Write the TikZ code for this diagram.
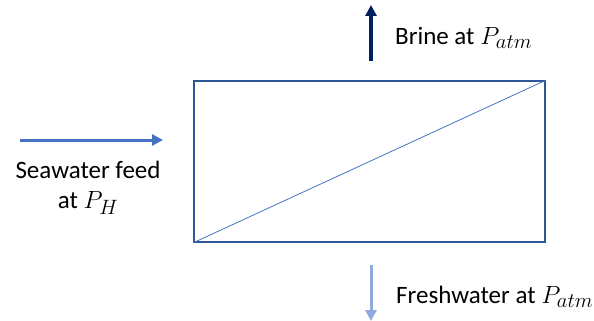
\documentclass[tikz,border=0pt]{standalone}
\usepackage{fontspec}
\setmainfont{Carlito}
\usetikzlibrary{arrows.meta,positioning}
\definecolor{feedblue}{HTML}{4472C4}
\definecolor{brinenavy}{HTML}{002060}
\definecolor{freshblue}{HTML}{8FAADC}
\definecolor{boxblue}{HTML}{2F5597}
\newcommand\pressure[1]{{\fontsize{28}{30}\selectfont$P_{#1}$}}
\tikzset{
  flow/.style={line width=3pt, -{Triangle[length=11pt,width=11pt]}},
  label/.style={font=\fontsize{25}{30}\selectfont, inner sep=0pt}
}
\begin{document}
\begin{tikzpicture}[x=1pt, y=-1pt]
  \useasboundingbox (0,0) rectangle (594,321);
  % membrane module
  \node[draw=boxblue, line width=1.5pt, minimum width=351pt, minimum height=161pt, inner sep=0pt] (module) at (369.5,161.5) {};
  \draw[feedblue, line width=0.8pt] (module.south west) -- (module.north east);
  % feed
  \coordinate (feedin) at (20,140);
  \coordinate (feedout) at (163,140);
  \draw[flow, feedblue] (feedin) -- (feedout);
  \node[label, align=center] (feedtxt) at (88,188) {Seawater feed\\at \pressure{H}};
  % brine
  \coordinate (brinein) at (371,61);
  \coordinate (brineout) at (371,5);
  \draw[flow, brinenavy, line width=3.5pt] (brinein) -- (brineout);
  \node[label, anchor=west] (brinetxt) at (395,38) {Brine at \pressure{atm}};
  % permeate
  \coordinate (freshin) at (371,265);
  \coordinate (freshout) at (371,321);
  \draw[flow, freshblue] (freshin) -- (freshout);
  \node[label, anchor=west] (freshtxt) at (396,297) {Freshwater at \pressure{atm}};
\end{tikzpicture}
\end{document}
